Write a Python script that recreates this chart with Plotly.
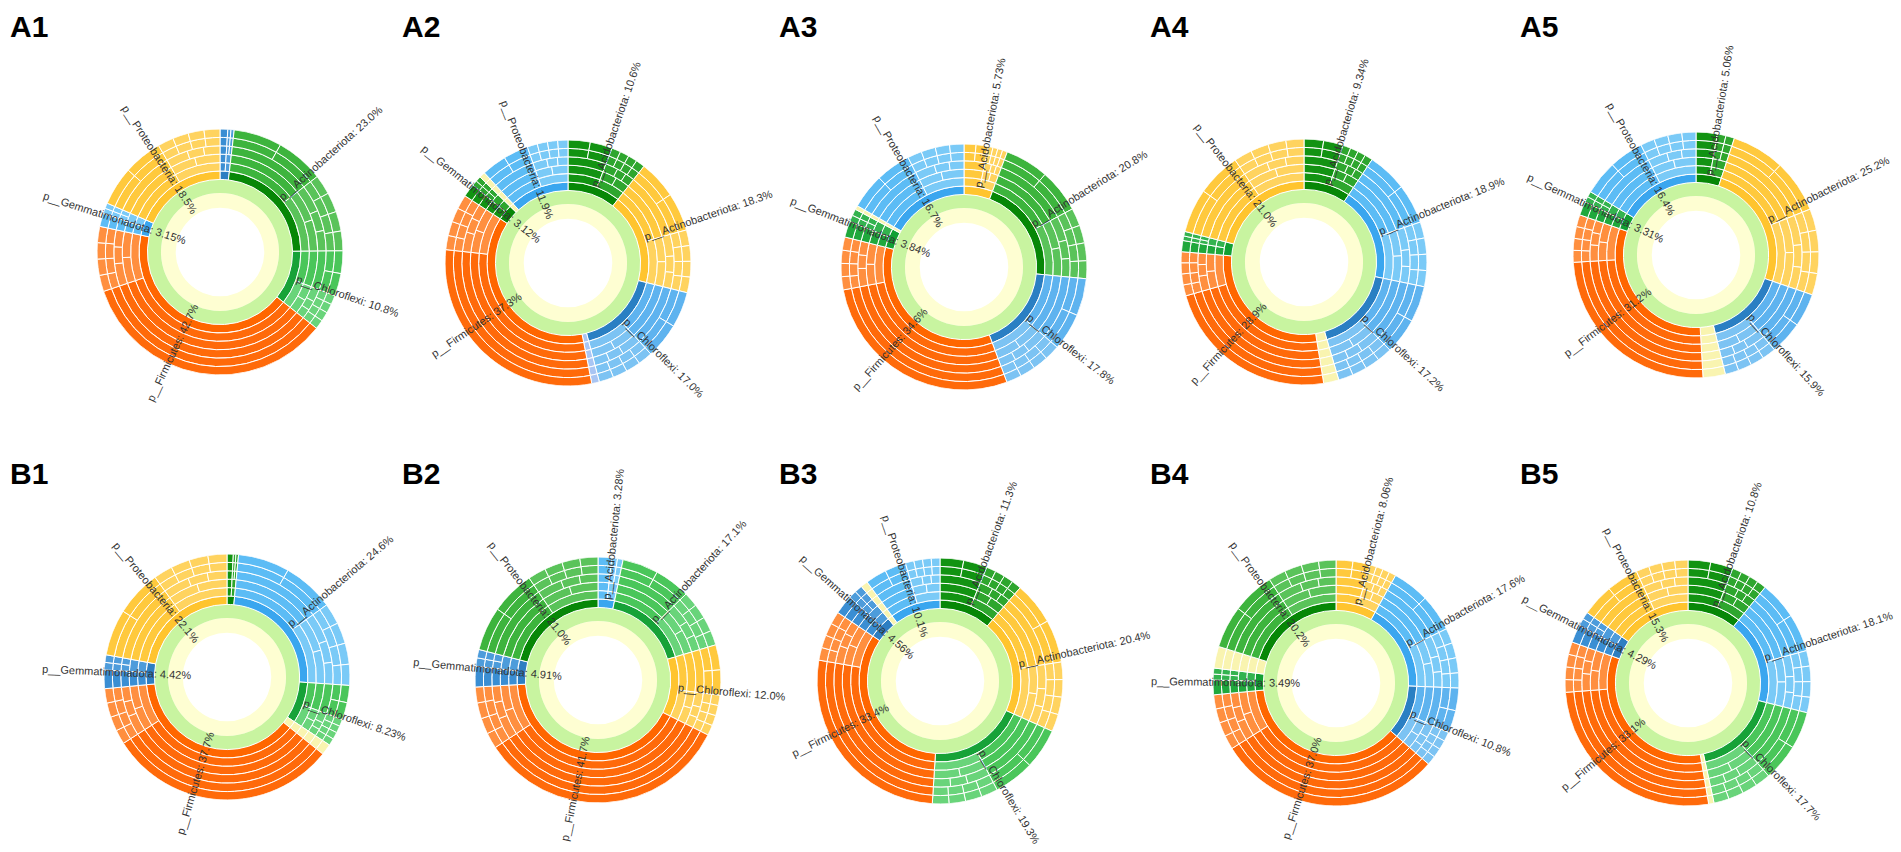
import math
import plotly.graph_objects as go

W, H = 1901, 852

PANELS = ["A1", "A2", "A3", "A4", "A5", "B1", "B2", "B3", "B4", "B5"]

# ---- data: phyla clockwise from 12 o'clock, relative abundance (%) ----
A1_PHYLA = ["", "p__Actinobacteriota", "p__Chloroflexi", "p__Firmicutes", "p__Gemmatimonadota", "p__Proteobacteria"]
A1_VALUES = [1.85, 23.0, 10.8, 42.7, 3.15, 18.5]
A1_COLORS = ["gbl", "grn", "mgr", "org", "blu", "yel"]

A2_PHYLA = ["p__Acidobacteriota", "p__Actinobacteriota", "p__Chloroflexi", "", "p__Firmicutes", "p__Gemmatimonadota", "", "p__Proteobacteria"]
A2_VALUES = [10.6, 18.3, 17.0, 1.0, 37.3, 3.12, 0.78, 11.9]
A2_COLORS = ["dgr", "yel", "dbl", "lav", "org", "dgr", "pal", "blu"]

A3_PHYLA = ["p__Acidobacteriota", "p__Actinobacteriota", "p__Chloroflexi", "p__Firmicutes", "p__Gemmatimonadota", "", "p__Proteobacteria"]
A3_VALUES = [5.73, 20.8, 17.8, 34.6, 3.84, 0.53, 16.7]
A3_COLORS = ["yel", "grn", "dbl", "org", "gem", "pal", "blu"]

A4_PHYLA = ["p__Acidobacteriota", "p__Actinobacteriota", "p__Chloroflexi", "", "p__Firmicutes", "", "p__Proteobacteria"]
A4_VALUES = [9.34, 18.9, 17.2, 2.0, 28.9, 2.66, 21.0]
A4_COLORS = ["dgr", "blu", "dbl", "pal", "org", "gem", "yel"]

A5_PHYLA = ["p__Acidobacteriota", "p__Actinobacteriota", "p__Chloroflexi", "", "p__Firmicutes", "p__Gemmatimonadota", "p__Proteobacteria"]
A5_VALUES = [5.06, 25.2, 15.9, 2.93, 31.2, 3.31, 16.4]
A5_COLORS = ["dgr", "yel", "dbl", "pal", "org", "gem", "blu"]

B1_PHYLA = ["", "p__Actinobacteriota", "p__Chloroflexi", "", "p__Firmicutes", "p__Gemmatimonadota", "p__Proteobacteria"]
B1_VALUES = [1.5, 24.6, 8.23, 1.45, 37.7, 4.42, 22.1]
B1_COLORS = ["dgr", "blu", "mgr", "pal", "org", "gbl", "yel"]

B2_PHYLA = ["p__Acidobacteriota", "p__Actinobacteriota", "p__Chloroflexi", "p__Firmicutes", "p__Gemmatimonadota", "p__Proteobacteria"]
B2_VALUES = [3.28, 17.1, 12.0, 41.7, 4.91, 21.0]
B2_COLORS = ["blu", "mgr", "yel", "org", "gbl", "grn"]

B3_PHYLA = ["p__Acidobacteriota", "p__Actinobacteriota", "p__Chloroflexi", "p__Firmicutes", "p__Gemmatimonadota", "", "p__Proteobacteria"]
B3_VALUES = [11.3, 20.4, 19.3, 33.4, 4.56, 0.94, 10.1]
B3_COLORS = ["dgr", "yel", "mgr", "org", "gbl", "pal", "blu"]

B4_PHYLA = ["p__Acidobacteriota", "p__Actinobacteriota", "p__Chloroflexi", "p__Firmicutes", "p__Gemmatimonadota", "", "p__Proteobacteria"]
B4_VALUES = [8.06, 17.6, 10.8, 37.0, 3.49, 2.85, 20.2]
B4_COLORS = ["yel", "blu", "dbl", "org", "gem", "pal", "grn"]

B5_PHYLA = ["p__Acidobacteriota", "p__Actinobacteriota", "p__Chloroflexi", "", "p__Firmicutes", "p__Gemmatimonadota", "p__Proteobacteria"]
B5_VALUES = [10.8, 18.1, 17.7, 0.71, 33.1, 4.29, 15.3]
B5_COLORS = ["dgr", "blu", "mgr", "pal", "org", "gbl", "yel"]

# estimated shares of lower-rank lineages inside each phylum (decorative sub-rings)
DOMINANT_SHARE = {"org": 0.8}
DEFAULT_DOMINANT = 0.55
MAJOR_SPLITS = [[], [], [], [0.5], [0.5]]
MINOR_SPLITS = [[], [0.5], [0.4, 0.7], [0.25, 0.5, 0.75], [0.25, 0.5, 0.75]]

DATA = [
    (A1_PHYLA, A1_VALUES, A1_COLORS), (A2_PHYLA, A2_VALUES, A2_COLORS),
    (A3_PHYLA, A3_VALUES, A3_COLORS), (A4_PHYLA, A4_VALUES, A4_COLORS),
    (A5_PHYLA, A5_VALUES, A5_COLORS), (B1_PHYLA, B1_VALUES, B1_COLORS),
    (B2_PHYLA, B2_VALUES, B2_COLORS), (B3_PHYLA, B3_VALUES, B3_COLORS),
    (B4_PHYLA, B4_VALUES, B4_COLORS), (B5_PHYLA, B5_VALUES, B5_COLORS),
]

# ---- style ----
PAL = {
    "org": ("#FF6600", "#FF6A0A", "#FF8F3F"),
    "yel": ("#FFC42E", "#FFC93D", "#FFD35F"),
    "blu": ("#3AA6EF", "#5CBCF5", "#7ACAF7"),
    "dbl": ("#2A7FC3", "#5EB3EF", "#7CC3F3"),
    "gbl": ("#2D7EC2", "#3A8ED3", "#4D9CDB"),
    "dgr": ("#078707", "#129312", "#2EA62E"),
    "grn": ("#078707", "#3DB43D", "#5AC35A"),
    "mgr": ("#17A238", "#4AC65A", "#69D47A"),
    "gem": ("#12A033", "#1FA83C", "#33B34F"),
    "pal": ("#F9F4B0", "#F9F4B0", "#F9F4B0"),
    "lav": ("#A9C5F3", "#A9C5F3", "#A9C5F3"),
}
ROOT_COLOR = "#FEFED2"
DOMAIN_COLOR = "#C8F4A0"
HOLE, ROOT_OUT, DOMAIN_OUT = 0.36, 0.48, 0.59
NLEV = 6
BAND = (1.0 - DOMAIN_OUT) / NLEV

CENTERS = [(220, 252), (568, 263), (964, 267), (1304, 262), (1696, 255),
           (227, 677), (598, 680), (940, 681), (1336, 683), (1688, 683)]
RPX = 123
PANEL_X = [8, 400, 777, 1148, 1518]
PANEL_TOP = [8, 455]

LABEL_SIZE = 11
CW = {'p': 556, '_': 556, 'A': 667, 'c': 500, 't': 278, 'i': 222, 'n': 556, 'o': 556,
      'b': 556, 'a': 556, 'e': 556, 'r': 333, 'C': 722, 'h': 556, 'l': 222, 'f': 278,
      'x': 500, 'F': 611, 'm': 833, 'u': 556, 's': 500, 'G': 778, 'd': 556, 'P': 667,
      ':': 278, ' ': 278, '.': 278, '%': 889}


def text_px(s):
    return sum(CW.get(ch, 556) for ch in s) / 1000.0 * LABEL_SIZE


def fmt(v):
    return f"{v:.1f}" if v >= 10 else f"{v:.2f}"


fig = go.Figure()
layout = dict(width=W, height=H, margin=dict(l=0, r=0, t=0, b=0),
              paper_bgcolor="white", plot_bgcolor="rgba(0,0,0,0)",
              showlegend=False, template="none", annotations=[])

for i, (phyla, values, colors) in enumerate(DATA):
    sid = "" if i == 0 else str(i + 1)
    cx, cy = CENTERS[i]
    total = sum(values)

    # inner rings (root, domain)
    fig.add_trace(go.Barpolar(
        r=[ROOT_OUT - HOLE, DOMAIN_OUT - ROOT_OUT], base=[HOLE, ROOT_OUT],
        theta=[180, 180], width=[360, 360],
        marker=dict(color=[ROOT_COLOR, DOMAIN_COLOR], line=dict(width=0)),
        subplot="polar" + sid, hoverinfo="skip", showlegend=False))

    rr, bb, tt, ww, cc = [], [], [], [], []
    start = 0.0
    for name, v, pk in zip(phyla, values, colors):
        span = v / total * 360.0
        band_c, outer_c, minor_c = PAL[pk]
        for lev in range(NLEV):
            base = DOMAIN_OUT + lev * BAND
            if lev == 0:
                pieces = [(0.0, 1.0, band_c)]
            elif pk in ("pal", "lav"):
                pieces = [(0.0, 1.0, outer_c)]
            else:
                d = DOMINANT_SHARE.get(pk, DEFAULT_DOMINANT)
                if span < 20:
                    maj, mino = [], ([] if lev < 3 else [0.5])
                else:
                    maj = [] if pk == "org" else MAJOR_SPLITS[lev - 1]
                    mino = MINOR_SPLITS[lev - 1]
                cuts_major = [0.0] + [d * s for s in maj] + [d]
                cuts_minor = [d + (1 - d) * s for s in mino] + [1.0]
                pieces = []
                for a0, a1 in zip(cuts_major[:-1], cuts_major[1:]):
                    pieces.append((a0, a1, outer_c))
                prev = d
                for a1 in cuts_minor:
                    pieces.append((prev, a1, minor_c))
                    prev = a1
            for f0, f1, col in pieces:
                rr.append(BAND)
                bb.append(base)
                tt.append(start + (f0 + f1) / 2 * span)
                ww.append((f1 - f0) * span)
                cc.append(col)
        # label
        if name:
            txt = f"{name}: {fmt(v)}%"
            a = start + span / 2
            L = text_px(txt) / RPX
            if a < 180:
                rho = 0.66 + L / 2
                ang = a - 90
            else:
                rho = 0.9
                ang = a - 270
            layout["annotations"].append(dict(
                x=rho * math.sin(math.radians(a)), y=rho * math.cos(math.radians(a)),
                xref="x" + sid, yref="y" + sid, text=txt, showarrow=False,
                textangle=ang, xanchor="center", yanchor="middle",
                font=dict(family="Liberation Sans, Arial, sans-serif", size=LABEL_SIZE, color="#333333")))
        start += span

    fig.add_trace(go.Barpolar(
        r=rr, base=bb, theta=tt, width=ww,
        marker=dict(color=cc, line=dict(color="white", width=1)),
        subplot="polar" + sid, hoverinfo="skip", showlegend=False))

    layout["polar" + sid] = dict(
        domain=dict(x=[(cx - RPX) / W, (cx + RPX) / W], y=[1 - (cy + RPX) / H, 1 - (cy - RPX) / H]),
        bgcolor="rgba(0,0,0,0)", hole=0,
        radialaxis=dict(visible=False, range=[0, 1]),
        angularaxis=dict(visible=False, rotation=90, direction="clockwise"))

    half = 1.45 * RPX
    x0p, x1p = max(0, cx - half), min(W, cx + half)
    y0p, y1p = max(0, cy - half), min(H, cy + half)
    layout["xaxis" + sid] = dict(domain=[x0p / W, x1p / W], range=[(x0p - cx) / RPX, (x1p - cx) / RPX],
                                 visible=False, fixedrange=True, anchor="y" + sid)
    layout["yaxis" + sid] = dict(domain=[1 - y1p / H, 1 - y0p / H], range=[-(y1p - cy) / RPX, (cy - y0p) / RPX],
                                 visible=False, fixedrange=True, anchor="x" + sid)
    fig.add_trace(go.Scatter(x=[None], y=[None], xaxis="x" + sid, yaxis="y" + sid,
                             mode="markers", showlegend=False, hoverinfo="skip"))

    # panel tag
    layout["annotations"].append(dict(
        x=PANEL_X[i % 5] / W, y=1 - PANEL_TOP[i // 5] / H, xref="paper", yref="paper",
        text=f"<b>{PANELS[i]}</b>", showarrow=False, xanchor="left", yanchor="top",
        font=dict(family="Liberation Sans, Arial, sans-serif", size=30, color="black")))

fig.update_layout(**layout)
fig.write_html("out.html", config={"displayModeBar": False},
               post_script="document.body.style.margin='0px';")
